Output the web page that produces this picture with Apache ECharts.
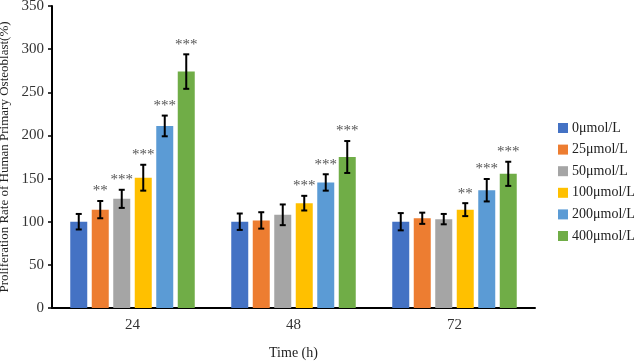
<!DOCTYPE html>
<html><head><meta charset="utf-8">
<script src="https://cdn.jsdelivr.net/npm/echarts@6/dist/echarts.min.js"></script>
<style>html,body{margin:0;padding:0;background:#fff}#c{width:634px;height:362px}</style>
</head><body><div id="c"></div>
<script>
const categories = ['24', '48', '72'];
const seriesNames = ['0μmol/L', '25μmol/L', '50μmol/L', '100μmol/L', '200μmol/L', '400μmol/L'];
const colors = ['#4472C4', '#ED7D31', '#A5A5A5', '#FFC000', '#5B9BD5', '#70AD47'];
const values = [
  [100, 100, 100],
  [114, 101.5, 104],
  [126.5, 108, 103],
  [151, 121.5, 114],
  [211, 145.5, 136.5],
  [274, 175, 155.5]
];
const errors = [
  [9, 9.5, 10],
  [10, 9.5, 6.5],
  [10.5, 12, 6],
  [15, 8.5, 7.5],
  [12, 9.5, 13],
  [20, 18.5, 14]
];
const stars = [
  ['', '', ''],
  ['**', '', ''],
  ['***', '', ''],
  ['***', '***', '**'],
  ['***', '***', '***'],
  ['***', '***', '***']
];
const yTicks = { min: 0, max: 350, interval: 50 };

const FONT = '"Liberation Serif", "Times New Roman", serif';
const BAR_W = 17, STEP = 21.5;
const chart = echarts.init(document.getElementById('c'), null, {renderer: 'canvas'});

const series = [];
seriesNames.forEach((name, i) => {
  series.push({
    name, type: 'bar', data: values[i], barWidth: BAR_W, barGap: ((STEP - BAR_W) / BAR_W * 100) + '%',
    itemStyle: { color: colors[i] }, silent: true
  });
});
seriesNames.forEach((name, i) => {
  series.push({
    type: 'custom', silent: true, z: 5,
    data: categories.map((c, j) => [j, values[i][j], errors[i][j]]),
    renderItem: function (params, api) {
      const j = api.value(0), v = api.value(1), e = api.value(2);
      const s = stars[i][j];
      const base = api.coord([j, v]);
      const x = base[0] + (i - 2.5) * STEP;
      const yt = api.coord([j, v + e])[1];
      const yb = api.coord([j, v - e])[1];
      const st = { stroke: '#000', lineWidth: 2 };
      const ch = [
        { type: 'line', shape: { x1: x, y1: yt, x2: x, y2: yb }, style: st },
        { type: 'line', shape: { x1: x - 3, y1: yt, x2: x + 3, y2: yt }, style: st },
        { type: 'line', shape: { x1: x - 3, y1: yb, x2: x + 3, y2: yb }, style: st }
      ];
      if (s) ch.push({ type: 'text', style: { text: s, x: x, y: yt - 2, align: 'center', verticalAlign: 'bottom',
        fill: '#555', font: '15px ' + FONT } });
      return { type: 'group', children: ch };
    }
  });
});

chart.setOption({
  animation: false,
  grid: { left: 52, right: 99, top: 6, bottom: 54, containLabel: false, outerBoundsMode: 'none' },
  legend: {
    orient: 'vertical', left: 553, top: 116, itemWidth: 10, itemHeight: 10, itemGap: 7.6,
    icon: 'rect', data: seriesNames,
    textStyle: { fontFamily: FONT, fontSize: 14, lineHeight: 14, color: '#222', padding: [0, 0, 0, -1] }
  },
  xAxis: {
    type: 'category', data: categories, name: 'Time (h)', nameLocation: 'middle', nameGap: 38,
    nameTextStyle: { fontFamily: FONT, fontSize: 14, color: '#222' },
    axisLine: { lineStyle: { color: '#000', width: 2 } },
    axisTick: { alignWithLabel: true, length: 4, lineStyle: { color: '#000', width: 2 } },
    axisLabel: { fontFamily: FONT, fontSize: 15, color: '#333', margin: 10 }
  },
  yAxis: {
    type: 'value', min: yTicks.min, max: yTicks.max, interval: yTicks.interval,
    name: 'Proliferation Rate of Human Primary Osteoblast(%)', nameLocation: 'middle', nameGap: 32,
    nameTextStyle: { fontFamily: FONT, fontSize: 13, color: '#222' },
    axisLine: { show: true, lineStyle: { color: '#000', width: 2 } },
    axisTick: { show: true, length: 4, lineStyle: { color: '#000', width: 1.5 } },
    splitLine: { show: false },
    axisLabel: { fontFamily: FONT, fontSize: 15, color: '#333', margin: 8 }
  },
  series
});
</script></body></html>
